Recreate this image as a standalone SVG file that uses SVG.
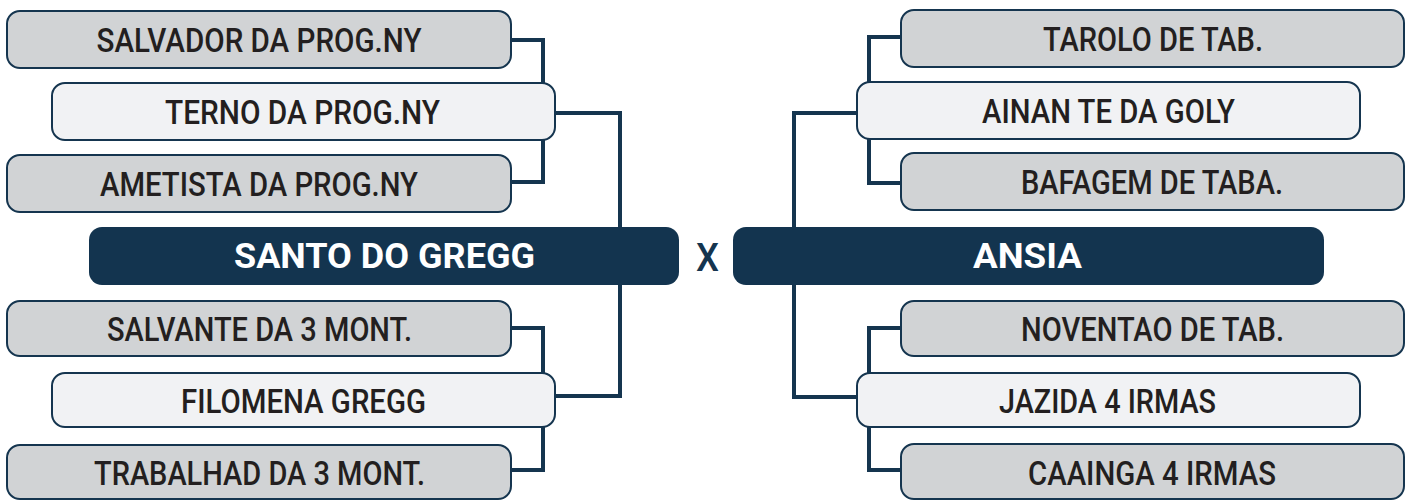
<svg xmlns="http://www.w3.org/2000/svg" width="1412" height="500" viewBox="0 0 1412 500">
<style>
.g{fill:#d1d3d5;stroke:#15354f;stroke-width:2}
.l{fill:#f1f2f4;stroke:#15354f;stroke-width:2}
.d{fill:#13344f}
.t{font-family:Roboto,"Liberation Sans",sans-serif;font-weight:500;font-size:34px;fill:#231f20;text-anchor:middle}
.w{font-family:Roboto,"Liberation Sans",sans-serif;font-weight:700;font-size:35px;fill:#ffffff;text-anchor:middle}
.c{fill:none;stroke:#15354f;stroke-width:4}
</style>
<rect width="1412" height="500" fill="#ffffff"/>
<g id="connectors">
<polyline class="c" points="511,40 543,40 543,84"/>
<polyline class="c" points="543,139 543,182 511,182"/>
<polyline class="c" points="555,113 620,113 620,228"/>
<polyline class="c" points="511,328 543,328 543,374"/>
<polyline class="c" points="543,426 543,470 511,470"/>
<polyline class="c" points="555,396 620,396 620,284"/>
<polyline class="c" points="901,37 869,37 869,83"/>
<polyline class="c" points="869,138 869,183 901,183"/>
<polyline class="c" points="857,113 794,113 794,228"/>
<polyline class="c" points="901,328 869,328 869,374"/>
<polyline class="c" points="869,426 869,470 901,470"/>
<polyline class="c" points="857,397 794,397 794,284"/>
</g>
<g id="salvador"><rect class="g" x="7" y="11" width="504" height="57" rx="13"/><text class="t" x="259" y="52" textLength="325" lengthAdjust="spacingAndGlyphs">SALVADOR DA PROG.NY</text></g>
<g id="terno"><rect class="l" x="52" y="83" width="503" height="57" rx="13"/><text class="t" x="302.5" y="124" textLength="275" lengthAdjust="spacingAndGlyphs">TERNO DA PROG.NY</text></g>
<g id="ametista"><rect class="g" x="7" y="155" width="504" height="57" rx="13"/><text class="t" x="259" y="196" textLength="318" lengthAdjust="spacingAndGlyphs">AMETISTA DA PROG.NY</text></g>
<g id="santo"><rect class="d" x="89" y="227" width="590" height="58" rx="13"/><text class="w" x="384.5" y="268" textLength="301" lengthAdjust="spacingAndGlyphs">SANTO DO GREGG</text></g>
<g id="x"><text x="707.5" y="271" font-family="Roboto,'Liberation Sans',sans-serif" font-weight="500" font-size="38" fill="#15354f" text-anchor="middle" textLength="23" lengthAdjust="spacingAndGlyphs">X</text></g>
<g id="ansia"><rect class="d" x="733" y="227" width="591" height="58" rx="13"/><text class="w" x="1027.5" y="268" textLength="109" lengthAdjust="spacingAndGlyphs">ANSIA</text></g>
<g id="salvante"><rect class="g" x="7" y="301" width="504" height="55" rx="13"/><text class="t" x="259.5" y="341" textLength="305" lengthAdjust="spacingAndGlyphs">SALVANTE DA 3 MONT.</text></g>
<g id="filomena"><rect class="l" x="52" y="373" width="503" height="54" rx="13"/><text class="t" x="303.5" y="413" textLength="245" lengthAdjust="spacingAndGlyphs">FILOMENA GREGG</text></g>
<g id="trabalhad"><rect class="g" x="7" y="445" width="504" height="54" rx="13"/><text class="t" x="259.5" y="485" textLength="331" lengthAdjust="spacingAndGlyphs">TRABALHAD DA 3 MONT.</text></g>
<g id="tarolo"><rect class="g" x="901" y="10" width="503" height="57" rx="13"/><text class="t" x="1153" y="51" textLength="220" lengthAdjust="spacingAndGlyphs">TAROLO DE TAB.</text></g>
<g id="ainan"><rect class="l" x="857" y="82" width="503" height="57" rx="13"/><text class="t" x="1108.5" y="123" textLength="253" lengthAdjust="spacingAndGlyphs">AINAN TE DA GOLY</text></g>
<g id="bafagem"><rect class="g" x="901" y="153" width="503" height="57" rx="13"/><text class="t" x="1152" y="194" textLength="262" lengthAdjust="spacingAndGlyphs">BAFAGEM DE TABA.</text></g>
<g id="noventao"><rect class="g" x="901" y="301" width="503" height="55" rx="13"/><text class="t" x="1152.5" y="341" textLength="263" lengthAdjust="spacingAndGlyphs">NOVENTAO DE TAB.</text></g>
<g id="jazida"><rect class="l" x="857" y="373" width="503" height="54" rx="13"/><text class="t" x="1107.5" y="413" textLength="217" lengthAdjust="spacingAndGlyphs">JAZIDA 4 IRMAS</text></g>
<g id="caainga"><rect class="g" x="901" y="444" width="503" height="55" rx="13"/><text class="t" x="1152" y="485" textLength="248" lengthAdjust="spacingAndGlyphs">CAAINGA 4 IRMAS</text></g>
</svg>
